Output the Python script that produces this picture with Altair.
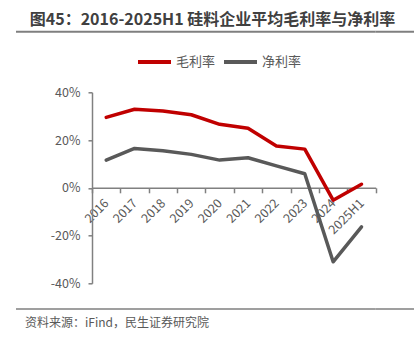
import altair as alt
import pandas as pd

years = ["2016", "2017", "2018", "2019", "2020", "2021", "2022", "2023", "2024", "2025H1"]
gross = [29.5, 32.9, 32.2, 30.6, 26.6, 24.9, 17.5, 16.2, -5.2, 1.5]
net = [11.6, 16.5, 15.5, 14.0, 11.6, 12.6, 9.2, 5.9, -31.0, -16.4]
series = ["毛利率", "净利率"]
colors = ["#C00000", "#595959"]
y_ticks = [-40, -20, 0, 20, 40]

title_text = "图45：2016-2025H1 硅料企业平均毛利率与净利率"
source_text = "资料来源：iFind，民生证券研究院"

rows = []
for i, y in enumerate(years):
    rows.append({"year": y, "series": series[0], "value": gross[i]})
    rows.append({"year": y, "series": series[1], "value": net[i]})
df = pd.DataFrame(rows)

W, H = 283.7, 191.0
PL, PT = 92, 92.3
FONT = "Noto Sans CJK SC"
GRAY = "#595959"

lines = alt.Chart(df).mark_line(strokeWidth=3.5, strokeCap="round", strokeJoin="round").encode(
    x=alt.X("year:N", sort=years, bandPosition=0.5,
            scale=alt.Scale(type="band", paddingInner=0, paddingOuter=0),
            axis=alt.Axis(title=None, offset=-H / 2, labelAngle=315, labelAlign="right",
                          labelBaseline="middle", labelPadding=8, tickSize=5, tickBand="extent",
                          domainColor="#808080", tickColor="#808080", labelColor=GRAY,
                          labelFontSize=12.5, labelFont=FONT, grid=False, domainWidth=1.5, tickWidth=1.5)),
    y=alt.Y("value:Q", scale=alt.Scale(domain=[-40, 40], nice=False),
            axis=alt.Axis(title=None, values=y_ticks, labelExpr="datum.value + '%'",
                          tickSize=4, labelPadding=8, domainColor="#808080", tickColor="#808080",
                          labelColor=GRAY, labelFontSize=12.5, labelFont=FONT, grid=False,
                          domainWidth=1.5, tickWidth=1.5)),
    color=alt.Color("series:N", sort=series,
                    scale=alt.Scale(domain=series, range=colors),
                    legend=alt.Legend(title=None, orient="none", direction="horizontal",
                                      legendX=44, legendY=-49, symbolType="stroke",
                                      symbolSize=1089, symbolStrokeWidth=4,
                                      labelFontSize=13, labelFont=FONT, labelColor=GRAY,
                                      labelOffset=3, columnPadding=0)),
)

one = pd.DataFrame({"t": [title_text]})
title = alt.Chart(one).mark_text(font=FONT, fontSize=16, fontWeight="bold", color="#404040",
                                 align="center", baseline="middle").encode(
    x=alt.value(212.5 - PL), y=alt.value(20.2 - PT), text="t:N")

src = pd.DataFrame({"t": [source_text]})
footer = alt.Chart(src).mark_text(font=FONT, fontSize=12, color=GRAY,
                                  align="left", baseline="middle").encode(
    x=alt.value(25 - PL), y=alt.value(322.8 - PT), text="t:N")


def seg(x0, x1, y_px, width):
    return alt.Chart(one).mark_rule(color="#7F7F7F", strokeWidth=width).encode(
        x=alt.value(x0 - PL), x2=alt.value(x1 - PL), y=alt.value(y_px - PT))


# decorative rules split into pieces: left margin, plot span, right margin
cuts = [16, PL, PL + W, 414]
decor = []
for y_px, w in [(31.7, 2), (309, 1.5)]:
    for a, b in zip(cuts[:-1], cuts[1:]):
        decor.append(seg(a, b, y_px, w))

chart = alt.layer(lines, title, footer, *decor).resolve_scale(
    x="independent", y="independent").properties(
    width=W, height=H,
    autosize=alt.AutoSizeParams(type="none"),
    padding={"left": PL, "top": PT, "right": 420 - PL - W, "bottom": 340 - PT - H},
    background="white",
).configure_view(stroke=None)

chart.save("out.html", embed_options={"renderer": "svg", "actions": False})
